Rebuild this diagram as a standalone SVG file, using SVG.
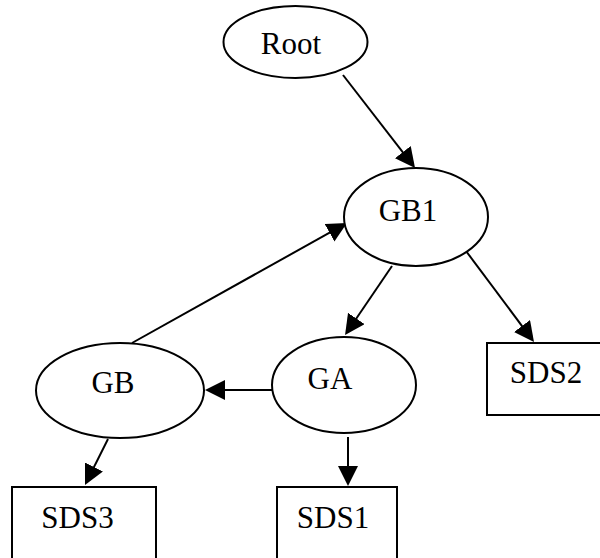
<svg xmlns="http://www.w3.org/2000/svg" width="600" height="558" viewBox="0 0 600 558">
<style>
.n{fill:#fff;stroke:#000;stroke-width:2}
.t{font-family:"Liberation Serif","Times New Roman",serif;font-size:31px;fill:#000;text-anchor:middle}
.e{stroke:#000;stroke-width:2;fill:none;marker-end:url(#ah)}
</style>
<defs>
<marker id="ah" markerUnits="userSpaceOnUse" markerWidth="21" markerHeight="21" refX="16" refY="10" orient="auto">
<path d="M0,0 L20,10 L0,20 Z" fill="#000"/>
</marker>
</defs>
<rect width="600" height="558" fill="#fff"/>
<g id="connectors">
<line class="e" x1="343" y1="75" x2="412.6" y2="164.8"/>
<line class="e" x1="392" y1="266" x2="347.3" y2="331.7"/>
<line class="e" x1="463" y1="247" x2="531.6" y2="338.8"/>
<line class="e" x1="272" y1="390" x2="209" y2="390"/>
<line class="e" x1="348" y1="437" x2="348" y2="482"/>
<line class="e" x1="108" y1="439" x2="86.8" y2="481.4"/>
<line class="e" x1="132" y1="343" x2="343.5" y2="224.9"/>
</g>
<g id="root"><ellipse class="n" cx="295.5" cy="42" rx="72" ry="36"/><text class="t" x="291" y="54">Root</text></g>
<g id="gb1"><ellipse class="n" cx="416" cy="217" rx="72" ry="49"/><text class="t" x="408" y="221">GB1</text></g>
<g id="ga"><ellipse class="n" cx="344" cy="385" rx="72" ry="48"/><text class="t" x="330" y="389">GA</text></g>
<g id="gb"><ellipse class="n" cx="120" cy="390.5" rx="84" ry="47.5"/><text class="t" x="113" y="393">GB</text></g>
<g id="sds2"><rect class="n" x="487" y="343" width="120" height="72"/><text class="t" x="546" y="383">SDS2</text></g>
<g id="sds3"><rect class="n" x="12" y="487" width="144" height="80"/><text class="t" x="77.5" y="528">SDS3</text></g>
<g id="sds1"><rect class="n" x="277" y="487" width="120" height="80"/><text class="t" x="333" y="528">SDS1</text></g>
</svg>
